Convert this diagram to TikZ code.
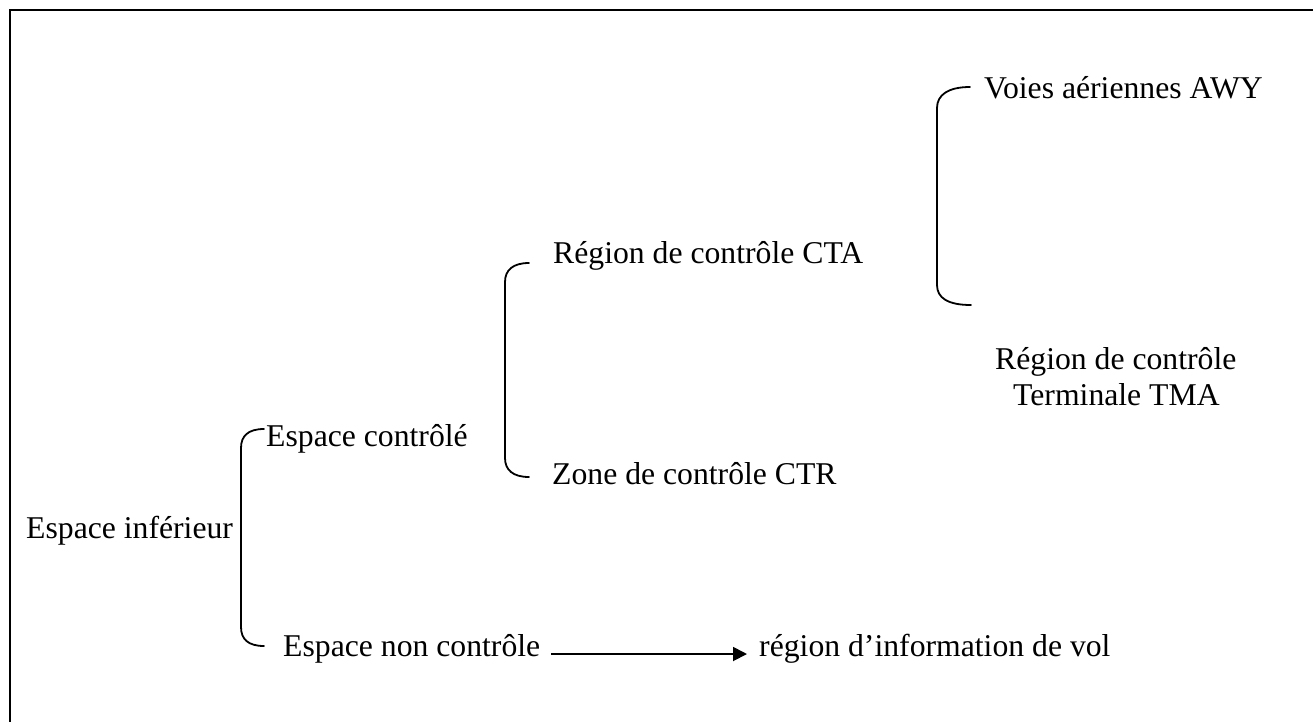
\documentclass[tikz,border=0pt]{standalone}
\usepackage{fontspec}
\setmainfont{Liberation Serif}
\usetikzlibrary{arrows.meta}
\begin{document}
\begin{tikzpicture}[x=1pt,y=-1pt,
  lbl/.style={anchor=base west,inner sep=0pt,font=\fontsize{31.7}{36}\selectfont},
  brace/.style={line width=1.8pt,line cap=round},
  frameline/.style={line width=2pt}]
\useasboundingbox (0,0) rectangle (1313,721);
% frame (only top and left sides visible)
\coordinate (fbl) at (10,725);
\coordinate (ftl) at (10,9.5);
\coordinate (ftr) at (1320,9.5);
\draw[frameline] (fbl) -- (ftl) -- (ftr);
% labels
\node[lbl] (inf) at (26,538) {Espace inférieur};
\node[lbl] (ctrl) at (266,446) {Espace contrôlé};
\node[lbl] (nonctrl) at (283,656) {Espace non contrôle};
\node[lbl] (cta) at (553,263) {Région de contrôle CTA};
\node[lbl] (ctr) at (552,484) {Zone de contrôle CTR};
\node[lbl] (awy) at (984,98) {Voies aériennes AWY};
\node[lbl] (tma1) at (995,369) {Région de contrôle};
\node[lbl] (tma2) at (1013,405) {Terminale TMA};
\node[lbl] (fir) at (759,656) {région d’information de vol};
% brace 1
\coordinate (b1t) at (264,429);
\coordinate (b1b) at (264,646);
\draw[brace] (b1t) .. controls (248,429) and (241,436) .. (241,448)
  -- (241,627) .. controls (241,639) and (248,646) .. (b1b);
% brace 2
\coordinate (b2t) at (529,263);
\coordinate (b2b) at (529,477);
\draw[brace] (b2t) .. controls (513,263) and (505,270) .. (505,282)
  -- (505,458) .. controls (505,470) and (513,477) .. (b2b);
% brace 3
\coordinate (b3t) at (970,87);
\coordinate (b3b) at (971,305);
\draw[brace] (b3t) .. controls (948,87) and (937,95) .. (937,108)
  -- (937,285) .. controls (937,298) and (948,305) .. (b3b);
% arrow
\coordinate (arrs) at (551,654);
\draw[line width=1.8pt,-{Triangle[length=14pt,width=14pt]}] (arrs) -- (747,654);
\end{tikzpicture}
\end{document}
